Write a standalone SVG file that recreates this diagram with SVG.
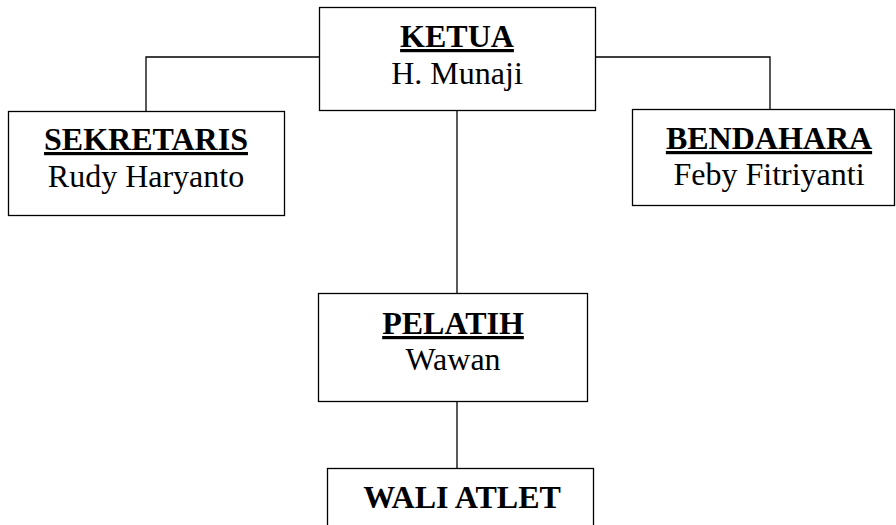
<svg xmlns="http://www.w3.org/2000/svg" width="896" height="525" viewBox="0 0 896 525">
<style>
.box{fill:#fff;stroke:#000;stroke-width:1.3}
.conn{fill:none;stroke:#000;stroke-width:1.3}
.t{font-family:"Liberation Serif","Times New Roman",serif;font-size:32px;text-anchor:middle;fill:#000}
.h{font-weight:bold;text-decoration:underline}
.hb{font-weight:bold}
</style>
<rect width="896" height="525" fill="#fff"/>
<g id="connectors">
<polyline class="conn" points="319,57 146,57 146,111"/>
<polyline class="conn" points="595,57 770,57 770,109"/>
<line class="conn" x1="457" y1="111" x2="457" y2="293"/>
<line class="conn" x1="457" y1="401" x2="457" y2="468"/>
</g>
<g id="ketua">
<rect class="box" x="319.5" y="7.5" width="276" height="103"/>
<text class="t h" x="457" y="47">KETUA</text>
<text class="t" x="457" y="84">H. Munaji</text>
</g>
<g id="sekretaris">
<rect class="box" x="8.5" y="111.5" width="276" height="104"/>
<text class="t h" x="146" y="150">SEKRETARIS</text>
<text class="t" x="146" y="187">Rudy Haryanto</text>
</g>
<g id="bendahara">
<rect class="box" x="632.5" y="109.5" width="262" height="96"/>
<text class="t h" x="769" y="149">BENDAHARA</text>
<text class="t" x="769" y="185">Feby Fitriyanti</text>
</g>
<g id="pelatih">
<rect class="box" x="318.5" y="293.5" width="269" height="108"/>
<text class="t h" x="453" y="334">PELATIH</text>
<text class="t" x="453" y="370">Wawan</text>
</g>
<g id="wali-atlet">
<rect class="box" x="327.5" y="468.5" width="266" height="70"/>
<text class="t hb" x="462" y="508">WALI ATLET</text>
</g>
</svg>
